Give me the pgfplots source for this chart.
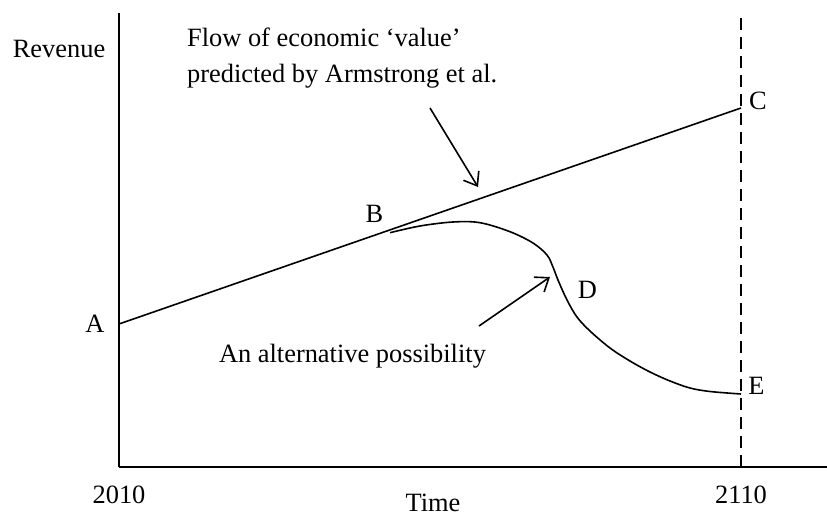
\documentclass[border=0pt]{standalone}
\usepackage{fontspec}
\setmainfont{Liberation Serif}
\usepackage{pgfplots}
\pgfplotsset{compat=1.18}
\usetikzlibrary{arrows.meta}
\begin{document}
\fontsize{26.4}{31}\selectfont
\begin{tikzpicture}
\useasboundingbox (0,0) rectangle (827pt,517pt);
\begin{axis}[
  at={(119pt,50pt)}, anchor=south west,
  scale only axis, width=708pt, height=454pt,
  xmin=2010, xmax=2123.83, ymin=0, ymax=454,
  axis x line=bottom, axis y line=left,
  axis line style={-, line width=1.6pt},
  xtick={2010,2110}, xticklabels={2010,2110},
  ytick=\empty, major tick length=0pt,
  xticklabel style={anchor=base, yshift=-36pt, inner sep=0pt},
  xlabel={Time},
  xlabel style={at={(axis description cs:0.4435,0)}, anchor=base, yshift=-44pt, inner sep=0pt},
  ylabel={Revenue},
  ylabel style={rotate=-90, at={(axis description cs:-0.0847,0.9009)}, anchor=base, inner sep=0pt},
  clip=false,
  font=\fontsize{26.4}{31}\selectfont,
]
% left axis line drawn in full height
\draw[line width=1.6pt] (rel axis cs:0,0) -- (rel axis cs:0,1);
% vertical dashed line at 2110
\addplot[black, no marks, dash pattern=on 12pt off 7pt, line width=1.6pt] coordinates {(2110,0) (2110,454)};
% Armstrong et al. straight line A -> C
\addplot[black, no marks, line width=1.6pt] coordinates {(2010,143) (2110,359)};
% alternative curve B -> D -> E
\addplot[black, no marks, line width=1.6pt, smooth, tension=0.55] coordinates {
(2053.57,234.3) (2058.39,241) (2063.70,245) (2068.04,244.3) (2072.86,235.3)
(2076.56,224) (2078.81,212) (2079.77,200) (2080.58,187) (2082.03,167)
(2083.63,150) (2085.72,136) (2088.94,119) (2092.15,106) (2095.37,95)
(2098.59,86) (2101.80,79) (2105.02,75.5) (2110,73)};
% arrows
\draw[line width=1.6pt, -{Straight Barb[length=12pt,width=18pt]}] (axis cs:2060.0,359) -- (axis cs:2067.72,280);
\draw[line width=1.6pt, -{Straight Barb[length=12pt,width=18pt]}] (axis cs:2067.88,141) -- (axis cs:2079.29,190);
% labels
\node[anchor=base west, inner sep=0pt] at (axis cs:2020.93,420) {Flow of economic ‘value’};
\node[anchor=base west, inner sep=0pt] at (axis cs:2020.93,384) {predicted by Armstrong et al.};
\node[anchor=base, inner sep=0pt] at (axis cs:2047.54,105) {An alternative possibility};
\node[anchor=base, inner sep=0pt] at (axis cs:2006.14,135) {A};
\node[anchor=base, inner sep=0pt] at (axis cs:2051.08,244) {B};
\node[anchor=base, inner sep=0pt] at (axis cs:2112.73,357) {C};
\node[anchor=base, inner sep=0pt] at (axis cs:2085.32,168) {D};
\node[anchor=base, inner sep=0pt] at (axis cs:2112.49,73) {E};
\end{axis}
\end{tikzpicture}
\end{document}
